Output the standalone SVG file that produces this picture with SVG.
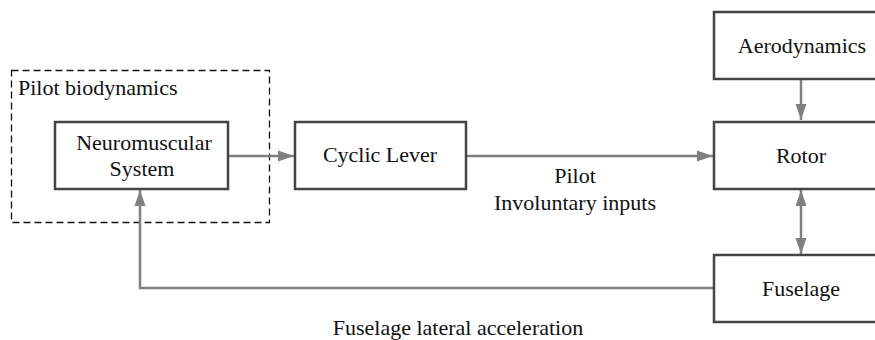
<svg xmlns="http://www.w3.org/2000/svg" width="875" height="340" viewBox="0 0 875 340" font-family="'Liberation Serif', 'Times New Roman', 'DejaVu Serif', serif">
<style>
  text { font-family: 'Liberation Serif', 'Times New Roman', 'DejaVu Serif', serif; font-size: 22px; fill: #111; }
  .c { text-anchor: middle; }
  .box { fill: #fff; stroke: #444; stroke-width: 2.5; }
  .conn { fill: none; stroke: #808080; stroke-width: 2.5; }
</style>
<defs>
  <marker id="ah" markerUnits="userSpaceOnUse" markerWidth="16" markerHeight="12" refX="16" refY="6" orient="auto-start-reverse">
    <path d="M0,0.5 L16,6 L0,11.5 z" fill="#808080"/>
  </marker>
</defs>
<rect width="875" height="340" fill="#fff"/>
<g id="pilot-biodynamics">
  <rect x="11.5" y="70.5" width="258" height="152" fill="none" stroke="#111" stroke-width="1.3" stroke-dasharray="7,4"/>
  <text x="18" y="95">Pilot biodynamics</text>
</g>
<g id="connectors">
  <line class="conn" x1="228" y1="156" x2="294" y2="156" marker-end="url(#ah)"/>
  <line class="conn" x1="466" y1="156" x2="713" y2="156" marker-end="url(#ah)"/>
  <line class="conn" x1="801" y1="79" x2="801" y2="120" marker-end="url(#ah)"/>
  <line class="conn" x1="801" y1="190" x2="801" y2="254" marker-start="url(#ah)" marker-end="url(#ah)"/>
  <polyline class="conn" points="714,288 140,288 140,190" marker-end="url(#ah)"/>
</g>
<g id="neuromuscular">
  <rect class="box" x="55" y="122" width="173" height="67"/>
  <text class="c" x="144" y="150">Neuromuscular</text>
  <text class="c" x="142" y="176">System</text>
</g>
<g id="cyclic-lever">
  <rect class="box" x="295" y="122" width="171" height="67"/>
  <text class="c" x="380" y="162">Cyclic Lever</text>
</g>
<g id="aerodynamics">
  <rect class="box" x="714" y="12" width="176" height="67"/>
  <text class="c" x="802" y="53">Aerodynamics</text>
</g>
<g id="rotor">
  <rect class="box" x="714" y="122" width="176" height="67"/>
  <text class="c" x="801" y="163">Rotor</text>
</g>
<g id="fuselage">
  <rect class="box" x="714" y="255" width="176" height="67"/>
  <text class="c" x="801" y="296">Fuselage</text>
</g>
<g id="labels">
  <text class="c" x="575" y="183">Pilot</text>
  <text class="c" x="575" y="210">Involuntary inputs</text>
  <text class="c" x="458" y="335">Fuselage lateral acceleration</text>
</g>
</svg>
